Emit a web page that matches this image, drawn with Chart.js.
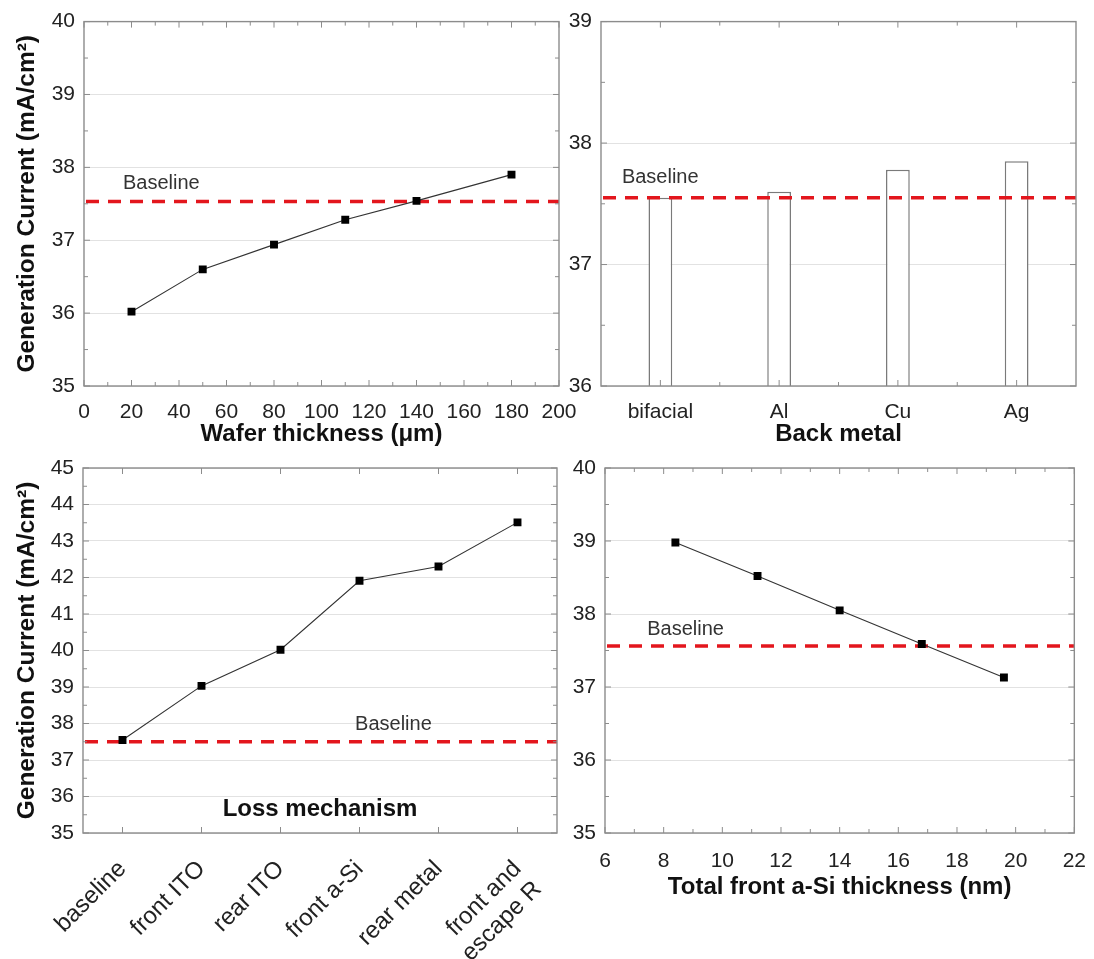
<!DOCTYPE html>
<html>
<head>
<meta charset="utf-8">
<script src="https://cdn.jsdelivr.net/npm/chart.js@4.4.1/dist/chart.umd.min.js"></script>
<style>
  body { margin: 0; background: #fff; }
  #wrap { position: relative; width: 1094px; height: 959px; overflow: hidden; }
  canvas { position: absolute; }
</style>
</head>
<body>
<div id="wrap">
  <canvas id="waferChart" width="590" height="460" style="left:0;top:0"></canvas>
  <canvas id="metalChart" width="534" height="460" style="left:560px;top:0"></canvas>
  <canvas id="lossChart" width="590" height="519" style="left:0;top:440px"></canvas>
  <canvas id="asiChart" width="534" height="519" style="left:560px;top:440px"></canvas>
</div>
<script>
// generation current vs wafer thickness
const waferThickness = [20, 50, 80, 110, 140, 180];
const waferCurrent = [36.02, 36.60, 36.94, 37.28, 37.54, 37.90];
const baselineWafer = 37.53;

// generation current vs back metal
const backMetals = ['bifacial', 'Al', 'Cu', 'Ag'];
const backMetalCurrent = [37.55, 37.60, 37.78, 37.85];
const baselineMetal = 37.55;

// generation current as each loss is removed
const lossLabels = ['baseline', 'front ITO', 'rear ITO', 'front a-Si', 'rear metal', ['front and', 'escape R']];
const lossCurrent = [37.55, 39.03, 40.02, 41.91, 42.30, 43.51];
const baselineLoss = 37.50;

// generation current vs total front a-Si thickness
const aSiThickness = [8.4, 11.2, 14.0, 16.8, 19.6];
const aSiCurrent = [38.98, 38.52, 38.05, 37.59, 37.13];
const baselineASi = 37.56;

const FONT = '"Liberation Sans", Arial, Helvetica, sans-serif';
Chart.defaults.font.family = FONT;
Chart.defaults.font.size = 21;
Chart.defaults.color = '#222';

const yTitle = 'Generation Current (mA/cm²)';
const titleFont = { size: 24, weight: 'bold' };

// tick positions on a scale: majors at the labels, minors halfway (or on category bounds)
function tickPositions(scale, bounds) {
  const out = [];
  if (scale.type === 'category') {
    const n = scale.ticks.length;
    for (let i = 0; i < n; i++) out.push({ p: scale.getPixelForTick(i), major: true });
    if (bounds) for (let i = 1; i < n; i++) out.push({ p: scale.getPixelForValue(i - 0.5), major: false });
  } else {
    const vals = scale.ticks.map(t => t.value);
    vals.forEach((v, i) => {
      out.push({ p: scale.getPixelForValue(v), major: true });
      if (i > 0) out.push({ p: scale.getPixelForValue((v + vals[i - 1]) / 2), major: false });
    });
  }
  return out;
}

// box around the plot with inward ticks on all four sides
const framePlugin = {
  id: 'frame',
  afterDraw(chart, args, opts) {
    const { ctx, chartArea: a, scales: { x, y } } = chart;
    ctx.save();
    ctx.strokeStyle = '#8c8c8c';
    ctx.lineWidth = 1;
    ctx.beginPath();
    tickPositions(x, opts.xBounds).forEach(t => {
      const len = t.major ? 6 : 4;
      ctx.moveTo(t.p, a.bottom); ctx.lineTo(t.p, a.bottom - len);
      ctx.moveTo(t.p, a.top); ctx.lineTo(t.p, a.top + len);
    });
    tickPositions(y).forEach(t => {
      const len = t.major ? 6 : 4;
      ctx.moveTo(a.left, t.p); ctx.lineTo(a.left + len, t.p);
      ctx.moveTo(a.right, t.p); ctx.lineTo(a.right - len, t.p);
    });
    ctx.stroke();
    ctx.lineWidth = 1.4;
    ctx.strokeRect(a.left, a.top, a.right - a.left, a.bottom - a.top);
    if (opts.caption) {
      ctx.fillStyle = '#111';
      ctx.font = 'bold 24px ' + FONT;
      ctx.textAlign = 'center';
      ctx.textBaseline = 'middle';
      ctx.fillText(opts.caption, (a.left + a.right) / 2, a.bottom - 24);
    }
    ctx.restore();
  }
};

// red dashed reference line with its label
function drawBaseline(chart, opts) {
  const { ctx, chartArea: a, scales: { y } } = chart;
  const py = y.getPixelForValue(opts.value);
  ctx.save();
  ctx.strokeStyle = '#e3161d';
  ctx.lineWidth = 3.5;
  ctx.setLineDash([13, 9]);
  ctx.beginPath();
  ctx.moveTo(a.left + 2, py);
  ctx.lineTo(a.right, py);
  ctx.stroke();
  ctx.setLineDash([]);
  ctx.fillStyle = '#333';
  ctx.font = '20px ' + FONT;
  ctx.textBaseline = 'middle';
  ctx.fillText('Baseline', a.left + opts.labelAt * (a.right - a.left), py - opts.lift);
  ctx.restore();
}
const baselinePlugin = {
  id: 'baseline',
  beforeDatasetsDraw(chart, args, opts) { if (!opts.above) drawBaseline(chart, opts); },
  afterDatasetsDraw(chart, args, opts) { if (opts.above) drawBaseline(chart, opts); }
};

const lineStyle = {
  borderColor: '#333',
  borderWidth: 1.1,
  pointStyle: 'rect',
  pointRadius: 5.6,
  pointBackgroundColor: '#000',
  pointBorderWidth: 0,
  tension: 0
};

function yScale(min, max, width, withTitle) {
  return {
    min: min, max: max,
    ticks: { stepSize: 1, padding: 9 },
    grid: { color: '#e2e2e2', drawTicks: false },
    border: { display: false },
    title: { display: withTitle, text: yTitle, font: { size: 24.5, weight: 'bold' }, color: '#111', padding: { top: 13, bottom: 0 } },
    afterFit: s => { s.width = width; }
  };
}

function baseOptions(padding, scales, baseline, frame) {
  return {
    responsive: false,
    animation: false,
    layout: { padding: padding },
    scales: scales,
    plugins: {
      legend: { display: false },
      tooltip: { enabled: false },
      baseline: baseline,
      frame: frame || {}
    }
  };
}

new Chart(document.getElementById('waferChart'), {
  type: 'line',
  data: { datasets: [Object.assign({ data: waferThickness.map((t, i) => ({ x: t, y: waferCurrent[i] })) }, lineStyle)] },
  options: baseOptions(
    { top: 20, right: 31, left: 0, bottom: 0 },
    {
      x: {
        type: 'linear', min: 0, max: 200,
        ticks: { stepSize: 20, padding: 6 },
        grid: { display: false }, border: { display: false },
        title: { display: true, text: 'Wafer thickness (μm)', font: titleFont, color: '#111', padding: { top: 0, bottom: 11 } },
        afterFit: s => { s.height = 74; }
      },
      y: yScale(35, 40, 84, true)
    },
    { value: baselineWafer, labelAt: 0.082, lift: 18 }
  ),
  plugins: [baselinePlugin, framePlugin]
});

new Chart(document.getElementById('metalChart'), {
  type: 'bar',
  data: {
    labels: backMetals,
    datasets: [{
      data: backMetalCurrent,
      backgroundColor: '#fff',
      borderColor: '#7a7a7a',
      borderWidth: 1.5,
      categoryPercentage: 1,
      barPercentage: 0.2
    }]
  },
  options: baseOptions(
    { top: 20, right: 18, left: 0, bottom: 0 },
    {
      x: {
        ticks: { padding: 6 },
        grid: { display: false }, border: { display: false },
        title: { display: true, text: 'Back metal', font: titleFont, color: '#111', padding: { top: 0, bottom: 11 } },
        afterFit: s => { s.height = 74; }
      },
      y: yScale(36, 39, 41, false)
    },
    { value: baselineMetal, labelAt: 0.044, lift: 20, above: true },
    { xBounds: true }
  ),
  plugins: [baselinePlugin, framePlugin]
});

new Chart(document.getElementById('lossChart'), {
  type: 'line',
  data: { labels: lossLabels, datasets: [Object.assign({ data: lossCurrent }, lineStyle)] },
  options: baseOptions(
    { top: 28, right: 33, left: 0, bottom: 0 },
    {
      x: {
        offset: true,
        ticks: { minRotation: 45, maxRotation: 45, autoSkip: false, padding: 14, font: { size: 24 } },
        grid: { display: false }, border: { display: false },
        afterFit: s => { s.height = 126; }
      },
      y: yScale(35, 45, 83, true)
    },
    { value: baselineLoss, labelAt: 0.574, lift: 17 },
    { caption: 'Loss mechanism' }
  ),
  plugins: [baselinePlugin, framePlugin]
});

new Chart(document.getElementById('asiChart'), {
  type: 'line',
  data: { datasets: [Object.assign({ data: aSiThickness.map((t, i) => ({ x: t, y: aSiCurrent[i] })) }, lineStyle)] },
  options: baseOptions(
    { top: 28, right: 14, left: 0, bottom: 0 },
    {
      x: {
        type: 'linear', min: 6, max: 22,
        ticks: { stepSize: 2, padding: 8 },
        grid: { display: false }, border: { display: false },
        title: { display: true, text: 'Total front a-Si thickness (nm)', font: titleFont, color: '#111', padding: { top: 0, bottom: 57 } },
        afterFit: s => { s.height = 126; }
      },
      y: yScale(35, 40, 45, false)
    },
    { value: baselineASi, labelAt: 0.09, lift: 17 }
  ),
  plugins: [baselinePlugin, framePlugin]
});
</script>
</body>
</html>
